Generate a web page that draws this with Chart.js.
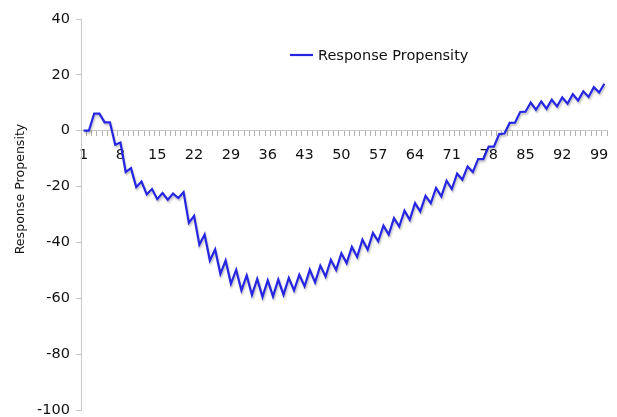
<!DOCTYPE html>
<html>
<head>
<meta charset="utf-8">
<script src="https://cdn.jsdelivr.net/npm/chart.js@4.4.1/dist/chart.umd.min.js"></script>
<style>
  html, body { margin: 0; padding: 0; background: #fff; }
  #wrap { width: 617px; height: 417px; position: relative; }
</style>
</head>
<body>
<div id="wrap"><canvas id="c" width="617" height="417"></canvas></div>
<script>
const categories = [1,2,3,4,5,6,7,8,9,10,11,12,13,14,15,16,17,18,19,20,
  21,22,23,24,25,26,27,28,29,30,31,32,33,34,35,36,37,38,39,40,
  41,42,43,44,45,46,47,48,49,50,51,52,53,54,55,56,57,58,59,60,
  61,62,63,64,65,66,67,68,69,70,71,72,73,74,75,76,77,78,79,80,
  81,82,83,84,85,86,87,88,89,90,91,92,93,94,95,96,97,98,99,100];
const shownLabels = [1,8,15,22,29,36,43,50,57,64,71,78,85,92,99];
const seriesName = "Response Propensity";
const yTitle = "Response Propensity";
const responsePropensity = [
  0, 0, 6.1, 6.1, 3.0, 3.0, -5.0, -4.2, -14.8, -13.4,
  -20.2, -18.2, -22.8, -20.9, -24.5, -22.3, -24.7, -22.5, -24.1, -22.0,
  -33.0, -30.5, -40.8, -37.2, -46.5, -42.5, -51.3, -46.5, -54.8, -49.8,
  -57.2, -51.8, -58.8, -53.1, -59.5, -53.6, -59.3, -53.3, -58.7, -52.7,
  -57.2, -51.6, -55.7, -49.8, -54.3, -48.3, -52.2, -46.2, -49.8, -43.9,
  -47.4, -41.6, -45.2, -39.0, -42.6, -36.6, -39.6, -34.0, -37.2, -31.3,
  -34.3, -28.6, -31.9, -25.9, -28.9, -23.3, -25.9, -20.5, -23.5, -17.9,
  -20.9, -15.4, -17.5, -12.8, -14.8, -10.2, -10.2, -5.7, -5.7, -1.2,
  -1.0, 2.8, 2.9, 6.7, 6.8, 10.1, 7.5, 10.5, 7.9, 11.1,
  8.7, 11.9, 9.7, 13.1, 10.8, 14.1, 12.1, 15.6, 13.7, 16.8
];
const yMin = -100, yMax = 40, yStep = 20;

const FONT = "'DejaVu Sans', Verdana, sans-serif";
const LINE_COLOR = '#2626e2';
const TEXT_COLOR = '#111111';
const AXIS_COLOR = '#c8c8c8';

const shadowPlugin = {
  id: 'lineShadow',
  beforeDatasetsDraw(chart) {
    const ctx = chart.ctx;
    ctx.save();
    ctx.shadowColor = 'rgba(0,0,0,0.25)';
    ctx.shadowBlur = 2;
    ctx.shadowOffsetX = 1;
    ctx.shadowOffsetY = 2;
  },
  afterDatasetsDraw(chart) {
    chart.ctx.restore();
  }
};

const decorations = {
  id: 'decorations',
  afterDraw(chart) {
    const ctx = chart.ctx;
    const ds = chart.data.datasets[0];
    const x0 = 290, y0 = 55;
    ctx.save();
    ctx.strokeStyle = ds.borderColor;
    ctx.lineWidth = 2.2;
    ctx.beginPath();
    ctx.moveTo(x0, y0);
    ctx.lineTo(x0 + 23, y0);
    ctx.stroke();
    ctx.fillStyle = TEXT_COLOR;
    ctx.font = "14.5px " + FONT;
    ctx.textBaseline = 'middle';
    ctx.textAlign = 'left';
    ctx.fillText(ds.label, x0 + 28, y0 + 1);
    ctx.translate(21, 189);
    ctx.rotate(-Math.PI / 2);
    ctx.font = "12.6px " + FONT;
    ctx.textAlign = 'center';
    ctx.textBaseline = 'middle';
    ctx.fillText(yTitle, 0, 0);
    ctx.restore();
  }
};

new Chart(document.getElementById('c'), {
  type: 'line',
  data: {
    labels: categories,
    datasets: [{
      label: seriesName,
      data: responsePropensity,
      borderColor: LINE_COLOR,
      backgroundColor: LINE_COLOR,
      borderWidth: 2.2,
      pointRadius: 0,
      tension: 0,
      fill: false
    }]
  },
  options: {
    responsive: false,
    animation: false,
    devicePixelRatio: 1,
    layout: { padding: { left: 0, right: 10, top: 19, bottom: 7 } },
    plugins: {
      legend: { display: false },
      tooltip: { enabled: false }
    },
    scales: {
      x: {
        type: 'category',
        position: { y: 0 },
        offset: true,
        border: { display: true, color: AXIS_COLOR, width: 1 },
        grid: {
          display: true,
          offset: true,
          drawOnChartArea: false,
          drawTicks: true,
          tickLength: 5,
          color: '#b0b0b0'
        },
        ticks: {
          autoSkip: false,
          maxRotation: 0,
          minRotation: 0,
          padding: 11,
          color: TEXT_COLOR,
          font: { family: FONT, size: 14.5 },
          callback: function(value, index) {
            const lab = this.getLabelForValue(value);
            return shownLabels.includes(Number(lab)) ? String(lab) : '';
          }
        },
        afterFit(scale) { scale.paddingLeft = 0; scale.paddingRight = 0; }
      },
      y: {
        min: yMin,
        max: yMax,
        border: { display: true, color: AXIS_COLOR, width: 1 },
        grid: {
          display: true,
          drawOnChartArea: false,
          drawTicks: true,
          tickLength: 5,
          color: AXIS_COLOR
        },
        ticks: {
          stepSize: yStep,
          padding: 6,
          color: TEXT_COLOR,
          font: { family: FONT, size: 14.5 }
        },
        afterFit(scale) {
          scale.width = 81;
          scale.paddingTop = 0;
          scale.paddingBottom = 0;
        }
      }
    }
  },
  plugins: [shadowPlugin, decorations]
});
</script>
</body>
</html>
